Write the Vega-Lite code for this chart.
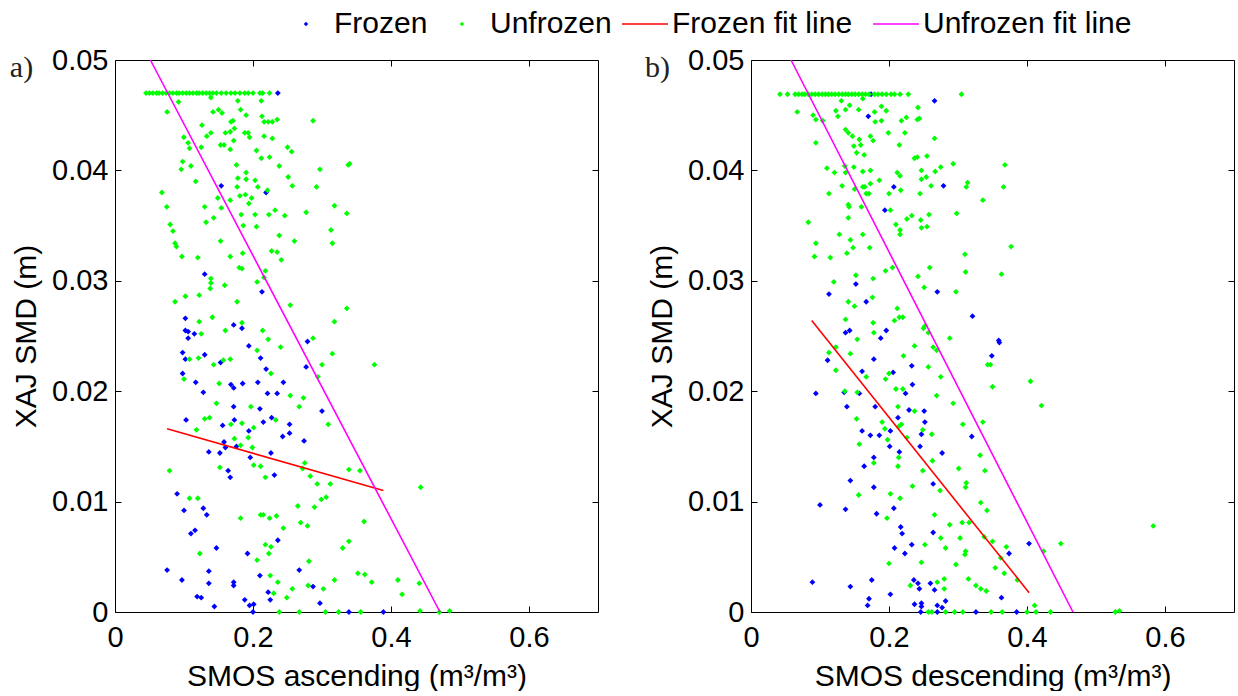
{
  "$schema": "https://vega.github.io/schema/vega-lite/v6.json",
  "background": "white",
  "padding": {"left": 9, "top": 0, "right": 0, "bottom": 0},
  "config": {
    "font": "Liberation Sans",
    "view": {"stroke": null},
    "axis": {
      "labelFont": "Liberation Sans", "labelFontSize": 29, "labelColor": "black",
      "titleFont": "Liberation Sans", "titleFontSize": 30, "titleFontWeight": "normal", "titleColor": "black",
      "domainColor": "black", "domainWidth": 1, "tickColor": "black", "tickSize": -6, "tickWidth": 1,
      "grid": false, "labelOverlap": false, "labelFlush": false
    },
    "legend": {
      "orient": "none", "direction": "horizontal", "title": null,
      "labelFont": "Liberation Sans", "labelFontSize": 30, "labelColor": "black", "labelLimit": 0, "padding": 0, "symbolOpacity": 1
    }
  },
  "datasets": {
    "ascPts": [
      {"group":"Frozen","x":0.236,"y":0.0470},{"group":"Frozen","x":0.154,"y":0.0386},{"group":"Frozen","x":0.219,"y":0.0380},{"group":"Frozen","x":0.130,"y":0.0306},{"group":"Frozen","x":0.213,"y":0.0290},{"group":"Frozen","x":0.102,"y":0.0266},{"group":"Frozen","x":0.102,"y":0.0255},{"group":"Frozen","x":0.106,"y":0.0254},{"group":"Frozen","x":0.115,"y":0.0252},{"group":"Frozen","x":0.106,"y":0.0248},{"group":"Frozen","x":0.172,"y":0.0260},{"group":"Frozen","x":0.184,"y":0.0257},
      {"group":"Frozen","x":0.098,"y":0.0235},{"group":"Frozen","x":0.102,"y":0.0229},{"group":"Frozen","x":0.130,"y":0.0233},{"group":"Frozen","x":0.153,"y":0.0226},{"group":"Frozen","x":0.194,"y":0.0241},{"group":"Frozen","x":0.211,"y":0.0230},{"group":"Frozen","x":0.219,"y":0.0220},{"group":"Frozen","x":0.279,"y":0.0245},{"group":"Frozen","x":0.277,"y":0.0222},{"group":"Frozen","x":0.098,"y":0.0216},{"group":"Frozen","x":0.117,"y":0.0208},{"group":"Frozen","x":0.128,"y":0.0199},{"group":"Frozen","x":0.168,"y":0.0206},{"group":"Frozen","x":0.172,"y":0.0203},{"group":"Frozen","x":0.185,"y":0.0207},{"group":"Frozen","x":0.207,"y":0.0208},{"group":"Frozen","x":0.221,"y":0.0198},{"group":"Frozen","x":0.235,"y":0.0198},{"group":"Frozen","x":0.244,"y":0.0208},{"group":"Frozen","x":0.300,"y":0.0182},{"group":"Frozen","x":0.103,"y":0.0174},{"group":"Frozen","x":0.156,"y":0.0169},{"group":"Frozen","x":0.172,"y":0.0186},{"group":"Frozen","x":0.173,"y":0.0174},{"group":"Frozen","x":0.210,"y":0.0184},{"group":"Frozen","x":0.215,"y":0.0172},{"group":"Frozen","x":0.227,"y":0.0176},{"group":"Frozen","x":0.253,"y":0.0170},{"group":"Frozen","x":0.253,"y":0.0162},{"group":"Frozen","x":0.243,"y":0.0159},{"group":"Frozen","x":0.274,"y":0.0155},{"group":"Frozen","x":0.194,"y":0.0164},{"group":"Frozen","x":0.158,"y":0.0154},{"group":"Frozen","x":0.160,"y":0.0149},{"group":"Frozen","x":0.176,"y":0.0150},{"group":"Frozen","x":0.136,"y":0.0145},{"group":"Frozen","x":0.152,"y":0.0144},{"group":"Frozen","x":0.196,"y":0.0140},{"group":"Frozen","x":0.226,"y":0.0144},{"group":"Frozen","x":0.164,"y":0.0128},{"group":"Frozen","x":0.167,"y":0.0122},{"group":"Frozen","x":0.231,"y":0.0124},{"group":"Frozen","x":0.090,"y":0.0107},{"group":"Frozen","x":0.100,"y":0.0092},{"group":"Frozen","x":0.128,"y":0.0094},{"group":"Frozen","x":0.133,"y":0.0088},{"group":"Frozen","x":0.110,"y":0.0071},{"group":"Frozen","x":0.116,"y":0.0074},{"group":"Frozen","x":0.147,"y":0.0058},{"group":"Frozen","x":0.192,"y":0.0053},{"group":"Frozen","x":0.236,"y":0.0065},{"group":"Frozen","x":0.0755,"y":0.0038},{"group":"Frozen","x":0.097,"y":0.0029},{"group":"Frozen","x":0.119,"y":0.0014},{"group":"Frozen","x":0.125,"y":0.0013},{"group":"Frozen","x":0.136,"y":0.0037},{"group":"Frozen","x":0.136,"y":0.0026},{"group":"Frozen","x":0.144,"y":0.0005},{"group":"Frozen","x":0.172,"y":0.0027},{"group":"Frozen","x":0.172,"y":0.0024},{"group":"Frozen","x":0.188,"y":0.0011},{"group":"Frozen","x":0.195,"y":0.0006},{"group":"Frozen","x":0.201,"y":0.0007},{"group":"Frozen","x":0.200,"y":0.0},{"group":"Frozen","x":0.210,"y":0.0033},{"group":"Frozen","x":0.222,"y":0.0018},{"group":"Frozen","x":0.225,"y":0.0011},{"group":"Frozen","x":0.267,"y":0.0038},{"group":"Frozen","x":0.287,"y":0.0023},{"group":"Frozen","x":0.297,"y":0.0008},{"group":"Frozen","x":0.339,"y":0.0},{"group":"Frozen","x":0.389,"y":0.0},
      {"group":"Unfrozen","x":0.045,"y":0.047},{"group":"Unfrozen","x":0.050,"y":0.047},{"group":"Unfrozen","x":0.055,"y":0.047},{"group":"Unfrozen","x":0.060,"y":0.047},{"group":"Unfrozen","x":0.064,"y":0.047},{"group":"Unfrozen","x":0.069,"y":0.047},{"group":"Unfrozen","x":0.074,"y":0.047},{"group":"Unfrozen","x":0.079,"y":0.047},{"group":"Unfrozen","x":0.084,"y":0.047},{"group":"Unfrozen","x":0.089,"y":0.047},{"group":"Unfrozen","x":0.093,"y":0.047},{"group":"Unfrozen","x":0.098,"y":0.047},{"group":"Unfrozen","x":0.103,"y":0.047},{"group":"Unfrozen","x":0.108,"y":0.047},{"group":"Unfrozen","x":0.113,"y":0.047},{"group":"Unfrozen","x":0.118,"y":0.047},{"group":"Unfrozen","x":0.122,"y":0.047},{"group":"Unfrozen","x":0.127,"y":0.047},{"group":"Unfrozen","x":0.132,"y":0.047},{"group":"Unfrozen","x":0.137,"y":0.047},{"group":"Unfrozen","x":0.142,"y":0.047},{"group":"Unfrozen","x":0.147,"y":0.047},{"group":"Unfrozen","x":0.154,"y":0.047},{"group":"Unfrozen","x":0.161,"y":0.047},{"group":"Unfrozen","x":0.168,"y":0.047},{"group":"Unfrozen","x":0.174,"y":0.047},{"group":"Unfrozen","x":0.181,"y":0.047},{"group":"Unfrozen","x":0.188,"y":0.047},{"group":"Unfrozen","x":0.193,"y":0.047},{"group":"Unfrozen","x":0.200,"y":0.047},{"group":"Unfrozen","x":0.210,"y":0.047},{"group":"Unfrozen","x":0.214,"y":0.047},{"group":"Unfrozen","x":0.224,"y":0.047},
      {"group":"Unfrozen","x":0.092,"y":0.0462},{"group":"Unfrozen","x":0.139,"y":0.0466},{"group":"Unfrozen","x":0.0755,"y":0.0453},{"group":"Unfrozen","x":0.142,"y":0.0453},{"group":"Unfrozen","x":0.150,"y":0.0455},{"group":"Unfrozen","x":0.155,"y":0.0452},{"group":"Unfrozen","x":0.182,"y":0.0455},{"group":"Unfrozen","x":0.190,"y":0.0450},{"group":"Unfrozen","x":0.178,"y":0.0463},{"group":"Unfrozen","x":0.212,"y":0.0463},{"group":"Unfrozen","x":0.213,"y":0.0449},{"group":"Unfrozen","x":0.216,"y":0.0444},{"group":"Unfrozen","x":0.222,"y":0.0444},{"group":"Unfrozen","x":0.228,"y":0.0444},{"group":"Unfrozen","x":0.235,"y":0.0446},{"group":"Unfrozen","x":0.287,"y":0.0445},{"group":"Unfrozen","x":0.168,"y":0.0444},{"group":"Unfrozen","x":0.171,"y":0.0445},{"group":"Unfrozen","x":0.126,"y":0.0441},{"group":"Unfrozen","x":0.0997,"y":0.0430},{"group":"Unfrozen","x":0.106,"y":0.0425},{"group":"Unfrozen","x":0.108,"y":0.0420},{"group":"Unfrozen","x":0.125,"y":0.0421},{"group":"Unfrozen","x":0.133,"y":0.0431},{"group":"Unfrozen","x":0.139,"y":0.0434},{"group":"Unfrozen","x":0.153,"y":0.0423},{"group":"Unfrozen","x":0.158,"y":0.0423},{"group":"Unfrozen","x":0.160,"y":0.0434},{"group":"Unfrozen","x":0.167,"y":0.0435},{"group":"Unfrozen","x":0.173,"y":0.0438},{"group":"Unfrozen","x":0.172,"y":0.0427},{"group":"Unfrozen","x":0.167,"y":0.0419},{"group":"Unfrozen","x":0.188,"y":0.0434},{"group":"Unfrozen","x":0.193,"y":0.0434},{"group":"Unfrozen","x":0.195,"y":0.0430},{"group":"Unfrozen","x":0.205,"y":0.0418},{"group":"Unfrozen","x":0.216,"y":0.0431},{"group":"Unfrozen","x":0.228,"y":0.0429},{"group":"Unfrozen","x":0.212,"y":0.0411},{"group":"Unfrozen","x":0.224,"y":0.0412},{"group":"Unfrozen","x":0.250,"y":0.0421},{"group":"Unfrozen","x":0.256,"y":0.0417},{"group":"Unfrozen","x":0.238,"y":0.0404},{"group":"Unfrozen","x":0.297,"y":0.0401},{"group":"Unfrozen","x":0.338,"y":0.0405},{"group":"Unfrozen","x":0.340,"y":0.0406},{"group":"Unfrozen","x":0.110,"y":0.0404},{"group":"Unfrozen","x":0.098,"y":0.0408},{"group":"Unfrozen","x":0.096,"y":0.0401},{"group":"Unfrozen","x":0.176,"y":0.0405},{"group":"Unfrozen","x":0.178,"y":0.0393},{"group":"Unfrozen","x":0.190,"y":0.0398},{"group":"Unfrozen","x":0.190,"y":0.0392},{"group":"Unfrozen","x":0.203,"y":0.0391},{"group":"Unfrozen","x":0.177,"y":0.0385},{"group":"Unfrozen","x":0.207,"y":0.0385},{"group":"Unfrozen","x":0.221,"y":0.0382},{"group":"Unfrozen","x":0.251,"y":0.0394},{"group":"Unfrozen","x":0.257,"y":0.0386},{"group":"Unfrozen","x":0.292,"y":0.0385},{"group":"Unfrozen","x":0.318,"y":0.0368},{"group":"Unfrozen","x":0.336,"y":0.0361},{"group":"Unfrozen","x":0.313,"y":0.0346},{"group":"Unfrozen","x":0.315,"y":0.0334},{"group":"Unfrozen","x":0.117,"y":0.0390},{"group":"Unfrozen","x":0.181,"y":0.0377},{"group":"Unfrozen","x":0.189,"y":0.0378},{"group":"Unfrozen","x":0.198,"y":0.0375},{"group":"Unfrozen","x":0.194,"y":0.0370},{"group":"Unfrozen","x":0.167,"y":0.0373},{"group":"Unfrozen","x":0.149,"y":0.0375},{"group":"Unfrozen","x":0.154,"y":0.0366},{"group":"Unfrozen","x":0.183,"y":0.0360},{"group":"Unfrozen","x":0.203,"y":0.0360},{"group":"Unfrozen","x":0.223,"y":0.0360},{"group":"Unfrozen","x":0.232,"y":0.0364},{"group":"Unfrozen","x":0.246,"y":0.0359},{"group":"Unfrozen","x":0.277,"y":0.0362},{"group":"Unfrozen","x":0.068,"y":0.0380},{"group":"Unfrozen","x":0.075,"y":0.0367},{"group":"Unfrozen","x":0.080,"y":0.0351},{"group":"Unfrozen","x":0.084,"y":0.0345},{"group":"Unfrozen","x":0.087,"y":0.0334},{"group":"Unfrozen","x":0.089,"y":0.0331},{"group":"Unfrozen","x":0.097,"y":0.0322},{"group":"Unfrozen","x":0.130,"y":0.0367},{"group":"Unfrozen","x":0.132,"y":0.0353},{"group":"Unfrozen","x":0.143,"y":0.0357},{"group":"Unfrozen","x":0.186,"y":0.0350},{"group":"Unfrozen","x":0.205,"y":0.0349},{"group":"Unfrozen","x":0.153,"y":0.0336},{"group":"Unfrozen","x":0.167,"y":0.0322},{"group":"Unfrozen","x":0.185,"y":0.0325},{"group":"Unfrozen","x":0.227,"y":0.0327},{"group":"Unfrozen","x":0.235,"y":0.0326},{"group":"Unfrozen","x":0.238,"y":0.0341},{"group":"Unfrozen","x":0.241,"y":0.0319},{"group":"Unfrozen","x":0.260,"y":0.0336},{"group":"Unfrozen","x":0.120,"y":0.0321},{"group":"Unfrozen","x":0.180,"y":0.0312},{"group":"Unfrozen","x":0.184,"y":0.0311},{"group":"Unfrozen","x":0.218,"y":0.0309},{"group":"Unfrozen","x":0.216,"y":0.0303},{"group":"Unfrozen","x":0.206,"y":0.0299},{"group":"Unfrozen","x":0.139,"y":0.0302},{"group":"Unfrozen","x":0.139,"y":0.0298},{"group":"Unfrozen","x":0.138,"y":0.0293},{"group":"Unfrozen","x":0.159,"y":0.0296},{"group":"Unfrozen","x":0.122,"y":0.0287},{"group":"Unfrozen","x":0.102,"y":0.0286},{"group":"Unfrozen","x":0.087,"y":0.0281},{"group":"Unfrozen","x":0.177,"y":0.0281},{"group":"Unfrozen","x":0.254,"y":0.0278},{"group":"Unfrozen","x":0.336,"y":0.0275},{"group":"Unfrozen","x":0.318,"y":0.0263},{"group":"Unfrozen","x":0.141,"y":0.0267},{"group":"Unfrozen","x":0.122,"y":0.0263},{"group":"Unfrozen","x":0.184,"y":0.0262},{"group":"Unfrozen","x":0.160,"y":0.0255},{"group":"Unfrozen","x":0.125,"y":0.0252},{"group":"Unfrozen","x":0.214,"y":0.0255},{"group":"Unfrozen","x":0.287,"y":0.0248},{"group":"Unfrozen","x":0.222,"y":0.0247},
      {"group":"Unfrozen","x":0.206,"y":0.0237},{"group":"Unfrozen","x":0.240,"y":0.0240},{"group":"Unfrozen","x":0.315,"y":0.0234},{"group":"Unfrozen","x":0.376,"y":0.0224},{"group":"Unfrozen","x":0.108,"y":0.0229},{"group":"Unfrozen","x":0.121,"y":0.0230},{"group":"Unfrozen","x":0.143,"y":0.0224},{"group":"Unfrozen","x":0.157,"y":0.0228},{"group":"Unfrozen","x":0.167,"y":0.0229},{"group":"Unfrozen","x":0.226,"y":0.0216},{"group":"Unfrozen","x":0.300,"y":0.0224},{"group":"Unfrozen","x":0.294,"y":0.0213},{"group":"Unfrozen","x":0.100,"y":0.0211},{"group":"Unfrozen","x":0.151,"y":0.0207},{"group":"Unfrozen","x":0.147,"y":0.0189},{"group":"Unfrozen","x":0.197,"y":0.0186},{"group":"Unfrozen","x":0.254,"y":0.0196},{"group":"Unfrozen","x":0.273,"y":0.0194},{"group":"Unfrozen","x":0.267,"y":0.0186},{"group":"Unfrozen","x":0.130,"y":0.0175},{"group":"Unfrozen","x":0.137,"y":0.0176},{"group":"Unfrozen","x":0.118,"y":0.0165},{"group":"Unfrozen","x":0.168,"y":0.0170},{"group":"Unfrozen","x":0.184,"y":0.0171},{"group":"Unfrozen","x":0.233,"y":0.0174},{"group":"Unfrozen","x":0.201,"y":0.0167},{"group":"Unfrozen","x":0.193,"y":0.0158},{"group":"Unfrozen","x":0.173,"y":0.0157},{"group":"Unfrozen","x":0.182,"y":0.0151},{"group":"Unfrozen","x":0.199,"y":0.0149},{"group":"Unfrozen","x":0.309,"y":0.0170},{"group":"Unfrozen","x":0.152,"y":0.0131},{"group":"Unfrozen","x":0.201,"y":0.0133},{"group":"Unfrozen","x":0.211,"y":0.0132},{"group":"Unfrozen","x":0.218,"y":0.0122},{"group":"Unfrozen","x":0.272,"y":0.0130},{"group":"Unfrozen","x":0.275,"y":0.0135},{"group":"Unfrozen","x":0.283,"y":0.0123},{"group":"Unfrozen","x":0.293,"y":0.0116},{"group":"Unfrozen","x":0.339,"y":0.0129},{"group":"Unfrozen","x":0.355,"y":0.0128},{"group":"Unfrozen","x":0.079,"y":0.0128},{"group":"Unfrozen","x":0.312,"y":0.0116},{"group":"Unfrozen","x":0.299,"y":0.0102},{"group":"Unfrozen","x":0.306,"y":0.0104},{"group":"Unfrozen","x":0.108,"y":0.0103},{"group":"Unfrozen","x":0.120,"y":0.0103},{"group":"Unfrozen","x":0.443,"y":0.0113},{"group":"Unfrozen","x":0.265,"y":0.0096},{"group":"Unfrozen","x":0.289,"y":0.0095},{"group":"Unfrozen","x":0.182,"y":0.0085},{"group":"Unfrozen","x":0.211,"y":0.0088},{"group":"Unfrozen","x":0.215,"y":0.0088},{"group":"Unfrozen","x":0.224,"y":0.0085},{"group":"Unfrozen","x":0.234,"y":0.0087},{"group":"Unfrozen","x":0.269,"y":0.0081},{"group":"Unfrozen","x":0.279,"y":0.0078},{"group":"Unfrozen","x":0.361,"y":0.0082},{"group":"Unfrozen","x":0.244,"y":0.0076},{"group":"Unfrozen","x":0.218,"y":0.0061},{"group":"Unfrozen","x":0.226,"y":0.0059},{"group":"Unfrozen","x":0.223,"y":0.0053},{"group":"Unfrozen","x":0.339,"y":0.0064},{"group":"Unfrozen","x":0.330,"y":0.0058},{"group":"Unfrozen","x":0.123,"y":0.0053},{"group":"Unfrozen","x":0.206,"y":0.0047},{"group":"Unfrozen","x":0.281,"y":0.0046},{"group":"Unfrozen","x":0.225,"y":0.0033},{"group":"Unfrozen","x":0.236,"y":0.0027},{"group":"Unfrozen","x":0.257,"y":0.0021},{"group":"Unfrozen","x":0.280,"y":0.0024},{"group":"Unfrozen","x":0.302,"y":0.0021},{"group":"Unfrozen","x":0.318,"y":0.0029},{"group":"Unfrozen","x":0.352,"y":0.0035},{"group":"Unfrozen","x":0.362,"y":0.0034},{"group":"Unfrozen","x":0.372,"y":0.0027},{"group":"Unfrozen","x":0.410,"y":0.0029},{"group":"Unfrozen","x":0.416,"y":0.0016},{"group":"Unfrozen","x":0.441,"y":0.0026},{"group":"Unfrozen","x":0.230,"y":0.0017},{"group":"Unfrozen","x":0.249,"y":0.0013},{"group":"Unfrozen","x":0.238,"y":0.0},{"group":"Unfrozen","x":0.267,"y":0.0},{"group":"Unfrozen","x":0.305,"y":0.0},{"group":"Unfrozen","x":0.324,"y":0.0},{"group":"Unfrozen","x":0.356,"y":0.0},{"group":"Unfrozen","x":0.442,"y":0.0001},{"group":"Unfrozen","x":0.470,"y":0.0},{"group":"Unfrozen","x":0.485,"y":0.0001}
    ],
    "ascFit": [
      {"group":"Frozen fit line","x":0.0755,"y":0.0166},{"group":"Frozen fit line","x":0.389,"y":0.0110},
      {"group":"Unfrozen fit line","x":0.0513,"y":0.05},{"group":"Unfrozen fit line","x":0.471,"y":0.0}
    ],
    "descPts": [
      {"group":"Frozen","x":0.174,"y":0.0469},{"group":"Frozen","x":0.266,"y":0.0463},{"group":"Frozen","x":0.170,"y":0.0449},{"group":"Frozen","x":0.279,"y":0.0386},{"group":"Frozen","x":0.207,"y":0.0385},{"group":"Frozen","x":0.194,"y":0.0364},{"group":"Frozen","x":0.113,"y":0.0288},{"group":"Frozen","x":0.152,"y":0.0297},{"group":"Frozen","x":0.167,"y":0.0281},{"group":"Frozen","x":0.270,"y":0.0290},{"group":"Frozen","x":0.321,"y":0.0268},{"group":"Frozen","x":0.137,"y":0.0253},{"group":"Frozen","x":0.143,"y":0.0255},{"group":"Frozen","x":0.188,"y":0.0248},{"group":"Frozen","x":0.196,"y":0.0255},{"group":"Frozen","x":0.359,"y":0.0246},
      {"group":"Frozen","x":0.360,"y":0.0244},{"group":"Frozen","x":0.349,"y":0.0232},{"group":"Frozen","x":0.233,"y":0.0223},{"group":"Frozen","x":0.206,"y":0.0217},{"group":"Frozen","x":0.234,"y":0.0206},{"group":"Frozen","x":0.224,"y":0.0198},{"group":"Frozen","x":0.178,"y":0.0229},{"group":"Frozen","x":0.111,"y":0.0228},{"group":"Frozen","x":0.161,"y":0.0218},{"group":"Frozen","x":0.094,"y":0.0198},{"group":"Frozen","x":0.135,"y":0.0199},{"group":"Frozen","x":0.139,"y":0.0186},{"group":"Frozen","x":0.157,"y":0.0198},{"group":"Frozen","x":0.180,"y":0.0186},{"group":"Frozen","x":0.213,"y":0.0176},{"group":"Frozen","x":0.229,"y":0.0183},{"group":"Frozen","x":0.251,"y":0.0182},{"group":"Frozen","x":0.252,"y":0.0172},{"group":"Frozen","x":0.202,"y":0.0164},{"group":"Frozen","x":0.161,"y":0.0164},{"group":"Frozen","x":0.173,"y":0.0160},{"group":"Frozen","x":0.186,"y":0.0160},{"group":"Frozen","x":0.247,"y":0.0161},{"group":"Frozen","x":0.320,"y":0.0159},{"group":"Frozen","x":0.201,"y":0.0150},{"group":"Frozen","x":0.215,"y":0.0145},{"group":"Frozen","x":0.245,"y":0.0150},{"group":"Frozen","x":0.277,"y":0.0144},{"group":"Frozen","x":0.178,"y":0.0140},{"group":"Frozen","x":0.164,"y":0.0132},{"group":"Frozen","x":0.144,"y":0.0119},{"group":"Frozen","x":0.264,"y":0.0116},{"group":"Frozen","x":0.178,"y":0.0113},{"group":"Frozen","x":0.100,"y":0.0097},{"group":"Frozen","x":0.137,"y":0.0093},{"group":"Frozen","x":0.182,"y":0.0089},{"group":"Frozen","x":0.207,"y":0.0094},{"group":"Frozen","x":0.217,"y":0.0077},{"group":"Frozen","x":0.219,"y":0.0071},{"group":"Frozen","x":0.264,"y":0.0072},{"group":"Frozen","x":0.233,"y":0.0061},{"group":"Frozen","x":0.208,"y":0.0058},{"group":"Frozen","x":0.223,"y":0.0053},{"group":"Frozen","x":0.403,"y":0.0062},{"group":"Frozen","x":0.374,"y":0.0053},{"group":"Frozen","x":0.089,"y":0.0027},{"group":"Frozen","x":0.144,"y":0.0023},{"group":"Frozen","x":0.175,"y":0.0029},{"group":"Frozen","x":0.171,"y":0.0012},{"group":"Frozen","x":0.169,"y":0.0006},{"group":"Frozen","x":0.202,"y":0.0016},{"group":"Frozen","x":0.236,"y":0.0029},{"group":"Frozen","x":0.242,"y":0.0026},{"group":"Frozen","x":0.244,"y":0.0021},{"group":"Frozen","x":0.260,"y":0.0026},{"group":"Frozen","x":0.266,"y":0.0020},{"group":"Frozen","x":0.237,"y":0.0007},{"group":"Frozen","x":0.247,"y":0.0008},{"group":"Frozen","x":0.247,"y":0.0005},{"group":"Frozen","x":0.246,"y":0.0},{"group":"Frozen","x":0.270,"y":0.0006},{"group":"Frozen","x":0.277,"y":0.0004},{"group":"Frozen","x":0.282,"y":0.0010},{"group":"Frozen","x":0.270,"y":0.0},{"group":"Frozen","x":0.326,"y":0.0},{"group":"Frozen","x":0.363,"y":0.0013},{"group":"Frozen","x":0.385,"y":0.0},
      {"group":"Unfrozen","x":0.042,"y":0.0469},{"group":"Unfrozen","x":0.053,"y":0.0469},{"group":"Unfrozen","x":0.064,"y":0.0469},{"group":"Unfrozen","x":0.069,"y":0.0469},{"group":"Unfrozen","x":0.074,"y":0.0469},{"group":"Unfrozen","x":0.078,"y":0.0469},{"group":"Unfrozen","x":0.083,"y":0.0469},{"group":"Unfrozen","x":0.088,"y":0.0469},{"group":"Unfrozen","x":0.093,"y":0.0469},{"group":"Unfrozen","x":0.098,"y":0.0469},{"group":"Unfrozen","x":0.103,"y":0.0469},{"group":"Unfrozen","x":0.108,"y":0.0469},{"group":"Unfrozen","x":0.112,"y":0.0469},{"group":"Unfrozen","x":0.117,"y":0.0469},{"group":"Unfrozen","x":0.122,"y":0.0469},{"group":"Unfrozen","x":0.127,"y":0.0469},{"group":"Unfrozen","x":0.132,"y":0.0469},{"group":"Unfrozen","x":0.137,"y":0.0469},{"group":"Unfrozen","x":0.141,"y":0.0469},{"group":"Unfrozen","x":0.146,"y":0.0469},{"group":"Unfrozen","x":0.151,"y":0.0469},{"group":"Unfrozen","x":0.156,"y":0.0469},{"group":"Unfrozen","x":0.161,"y":0.0469},{"group":"Unfrozen","x":0.166,"y":0.0469},{"group":"Unfrozen","x":0.171,"y":0.0469},{"group":"Unfrozen","x":0.179,"y":0.0469},{"group":"Unfrozen","x":0.184,"y":0.0469},{"group":"Unfrozen","x":0.190,"y":0.0469},{"group":"Unfrozen","x":0.196,"y":0.0469},{"group":"Unfrozen","x":0.203,"y":0.0469},{"group":"Unfrozen","x":0.208,"y":0.0469},{"group":"Unfrozen","x":0.216,"y":0.0469},{"group":"Unfrozen","x":0.228,"y":0.0469},{"group":"Unfrozen","x":0.305,"y":0.0469},
      {"group":"Unfrozen","x":0.162,"y":0.0465},{"group":"Unfrozen","x":0.131,"y":0.0463},{"group":"Unfrozen","x":0.143,"y":0.0459},{"group":"Unfrozen","x":0.067,"y":0.0453},{"group":"Unfrozen","x":0.123,"y":0.0454},{"group":"Unfrozen","x":0.137,"y":0.0455},{"group":"Unfrozen","x":0.156,"y":0.0455},{"group":"Unfrozen","x":0.179,"y":0.0453},{"group":"Unfrozen","x":0.189,"y":0.0458},{"group":"Unfrozen","x":0.196,"y":0.0454},{"group":"Unfrozen","x":0.126,"y":0.0449},{"group":"Unfrozen","x":0.090,"y":0.0450},{"group":"Unfrozen","x":0.094,"y":0.0446},{"group":"Unfrozen","x":0.104,"y":0.0445},{"group":"Unfrozen","x":0.180,"y":0.0444},{"group":"Unfrozen","x":0.189,"y":0.0445},{"group":"Unfrozen","x":0.218,"y":0.0445},{"group":"Unfrozen","x":0.225,"y":0.0448},{"group":"Unfrozen","x":0.242,"y":0.0457},{"group":"Unfrozen","x":0.241,"y":0.0446},{"group":"Unfrozen","x":0.244,"y":0.0447},{"group":"Unfrozen","x":0.223,"y":0.0434},{"group":"Unfrozen","x":0.199,"y":0.0434},{"group":"Unfrozen","x":0.215,"y":0.0423},{"group":"Unfrozen","x":0.137,"y":0.0437},{"group":"Unfrozen","x":0.141,"y":0.0434},{"group":"Unfrozen","x":0.147,"y":0.0431},{"group":"Unfrozen","x":0.157,"y":0.0428},{"group":"Unfrozen","x":0.173,"y":0.0431},{"group":"Unfrozen","x":0.177,"y":0.0427},{"group":"Unfrozen","x":0.149,"y":0.0422},{"group":"Unfrozen","x":0.159,"y":0.0423},{"group":"Unfrozen","x":0.153,"y":0.0416},{"group":"Unfrozen","x":0.164,"y":0.0414},{"group":"Unfrozen","x":0.094,"y":0.0425},{"group":"Unfrozen","x":0.266,"y":0.0429},{"group":"Unfrozen","x":0.237,"y":0.0411},{"group":"Unfrozen","x":0.241,"y":0.0412},{"group":"Unfrozen","x":0.255,"y":0.0413},{"group":"Unfrozen","x":0.293,"y":0.0406},{"group":"Unfrozen","x":0.368,"y":0.0405},{"group":"Unfrozen","x":0.247,"y":0.0400},{"group":"Unfrozen","x":0.247,"y":0.0392},{"group":"Unfrozen","x":0.254,"y":0.0394},{"group":"Unfrozen","x":0.267,"y":0.0399},{"group":"Unfrozen","x":0.275,"y":0.0403},{"group":"Unfrozen","x":0.261,"y":0.0386},{"group":"Unfrozen","x":0.110,"y":0.0402},{"group":"Unfrozen","x":0.121,"y":0.0398},{"group":"Unfrozen","x":0.136,"y":0.0404},{"group":"Unfrozen","x":0.137,"y":0.0398},{"group":"Unfrozen","x":0.149,"y":0.0403},{"group":"Unfrozen","x":0.162,"y":0.0399},{"group":"Unfrozen","x":0.173,"y":0.0400},{"group":"Unfrozen","x":0.186,"y":0.0391},{"group":"Unfrozen","x":0.212,"y":0.0398},{"group":"Unfrozen","x":0.216,"y":0.0395},{"group":"Unfrozen","x":0.217,"y":0.0382},{"group":"Unfrozen","x":0.245,"y":0.0379},{"group":"Unfrozen","x":0.132,"y":0.0386},{"group":"Unfrozen","x":0.162,"y":0.0385},{"group":"Unfrozen","x":0.165,"y":0.0385},{"group":"Unfrozen","x":0.173,"y":0.0388},{"group":"Unfrozen","x":0.150,"y":0.0383},{"group":"Unfrozen","x":0.167,"y":0.0379},{"group":"Unfrozen","x":0.171,"y":0.0379},{"group":"Unfrozen","x":0.113,"y":0.0379},{"group":"Unfrozen","x":0.200,"y":0.0379},{"group":"Unfrozen","x":0.314,"y":0.0389},{"group":"Unfrozen","x":0.312,"y":0.0385},{"group":"Unfrozen","x":0.366,"y":0.0385},{"group":"Unfrozen","x":0.336,"y":0.0373},{"group":"Unfrozen","x":0.141,"y":0.0369},{"group":"Unfrozen","x":0.142,"y":0.0367},{"group":"Unfrozen","x":0.160,"y":0.0367},{"group":"Unfrozen","x":0.141,"y":0.0357},{"group":"Unfrozen","x":0.202,"y":0.0364},{"group":"Unfrozen","x":0.226,"y":0.0356},{"group":"Unfrozen","x":0.233,"y":0.0359},{"group":"Unfrozen","x":0.258,"y":0.0360},{"group":"Unfrozen","x":0.298,"y":0.0361},{"group":"Unfrozen","x":0.246,"y":0.0355},{"group":"Unfrozen","x":0.247,"y":0.0348},{"group":"Unfrozen","x":0.255,"y":0.0349},{"group":"Unfrozen","x":0.210,"y":0.0351},{"group":"Unfrozen","x":0.216,"y":0.0346},{"group":"Unfrozen","x":0.216,"y":0.0342},{"group":"Unfrozen","x":0.083,"y":0.0353},{"group":"Unfrozen","x":0.094,"y":0.0334},{"group":"Unfrozen","x":0.092,"y":0.0322},{"group":"Unfrozen","x":0.115,"y":0.0321},{"group":"Unfrozen","x":0.128,"y":0.0342},{"group":"Unfrozen","x":0.144,"y":0.0337},{"group":"Unfrozen","x":0.148,"y":0.0330},{"group":"Unfrozen","x":0.139,"y":0.0325},{"group":"Unfrozen","x":0.162,"y":0.0342},{"group":"Unfrozen","x":0.172,"y":0.0330},{"group":"Unfrozen","x":0.310,"y":0.0324},{"group":"Unfrozen","x":0.377,"y":0.0331},{"group":"Unfrozen","x":0.195,"y":0.0309},{"group":"Unfrozen","x":0.205,"y":0.0312},{"group":"Unfrozen","x":0.259,"y":0.0312},{"group":"Unfrozen","x":0.311,"y":0.0308},{"group":"Unfrozen","x":0.363,"y":0.0306},{"group":"Unfrozen","x":0.242,"y":0.0304},{"group":"Unfrozen","x":0.251,"y":0.0294},{"group":"Unfrozen","x":0.297,"y":0.0290},{"group":"Unfrozen","x":0.120,"y":0.0299},{"group":"Unfrozen","x":0.152,"y":0.0305},{"group":"Unfrozen","x":0.177,"y":0.0302},{"group":"Unfrozen","x":0.176,"y":0.0285},{"group":"Unfrozen","x":0.141,"y":0.0281},{"group":"Unfrozen","x":0.150,"y":0.0277},{"group":"Unfrozen","x":0.212,"y":0.0275},{"group":"Unfrozen","x":0.137,"y":0.0265},{"group":"Unfrozen","x":0.177,"y":0.0262},{"group":"Unfrozen","x":0.208,"y":0.0264},{"group":"Unfrozen","x":0.215,"y":0.0267},{"group":"Unfrozen","x":0.220,"y":0.0267},{"group":"Unfrozen","x":0.250,"y":0.0257},{"group":"Unfrozen","x":0.252,"y":0.0259},{"group":"Unfrozen","x":0.257,"y":0.0253},{"group":"Unfrozen","x":0.178,"y":0.0253},{"group":"Unfrozen","x":0.154,"y":0.0247},{"group":"Unfrozen","x":0.288,"y":0.0248},
      {"group":"Unfrozen","x":0.237,"y":0.0241},{"group":"Unfrozen","x":0.264,"y":0.0240},{"group":"Unfrozen","x":0.269,"y":0.0237},{"group":"Unfrozen","x":0.123,"y":0.0240},{"group":"Unfrozen","x":0.144,"y":0.0234},{"group":"Unfrozen","x":0.113,"y":0.0235},{"group":"Unfrozen","x":0.221,"y":0.0232},{"group":"Unfrozen","x":0.343,"y":0.0224},{"group":"Unfrozen","x":0.347,"y":0.0224},{"group":"Unfrozen","x":0.257,"y":0.0222},{"group":"Unfrozen","x":0.123,"y":0.0219},{"group":"Unfrozen","x":0.167,"y":0.0213},{"group":"Unfrozen","x":0.195,"y":0.0211},{"group":"Unfrozen","x":0.200,"y":0.0216},{"group":"Unfrozen","x":0.275,"y":0.0213},{"group":"Unfrozen","x":0.405,"y":0.0209},{"group":"Unfrozen","x":0.350,"y":0.0204},{"group":"Unfrozen","x":0.136,"y":0.0200},{"group":"Unfrozen","x":0.154,"y":0.0199},{"group":"Unfrozen","x":0.210,"y":0.0202},{"group":"Unfrozen","x":0.220,"y":0.0202},{"group":"Unfrozen","x":0.269,"y":0.0196},{"group":"Unfrozen","x":0.293,"y":0.0189},{"group":"Unfrozen","x":0.421,"y":0.0187},{"group":"Unfrozen","x":0.213,"y":0.0186},{"group":"Unfrozen","x":0.237,"y":0.0182},{"group":"Unfrozen","x":0.153,"y":0.0175},{"group":"Unfrozen","x":0.190,"y":0.0172},{"group":"Unfrozen","x":0.214,"y":0.0168},{"group":"Unfrozen","x":0.218,"y":0.0170},{"group":"Unfrozen","x":0.249,"y":0.0165},{"group":"Unfrozen","x":0.307,"y":0.0170},{"group":"Unfrozen","x":0.336,"y":0.0172},{"group":"Unfrozen","x":0.194,"y":0.0166},{"group":"Unfrozen","x":0.262,"y":0.0161},{"group":"Unfrozen","x":0.157,"y":0.0152},{"group":"Unfrozen","x":0.198,"y":0.0156},{"group":"Unfrozen","x":0.226,"y":0.0158},{"group":"Unfrozen","x":0.178,"y":0.0135},{"group":"Unfrozen","x":0.214,"y":0.0140},{"group":"Unfrozen","x":0.213,"y":0.0132},{"group":"Unfrozen","x":0.263,"y":0.0137},{"group":"Unfrozen","x":0.332,"y":0.0142},{"group":"Unfrozen","x":0.301,"y":0.0130},{"group":"Unfrozen","x":0.249,"y":0.0128},{"group":"Unfrozen","x":0.339,"y":0.0128},{"group":"Unfrozen","x":0.312,"y":0.0117},{"group":"Unfrozen","x":0.311,"y":0.0113},{"group":"Unfrozen","x":0.234,"y":0.0114},{"group":"Unfrozen","x":0.274,"y":0.0110},{"group":"Unfrozen","x":0.156,"y":0.0106},{"group":"Unfrozen","x":0.202,"y":0.0107},{"group":"Unfrozen","x":0.216,"y":0.0103},{"group":"Unfrozen","x":0.333,"y":0.0099},{"group":"Unfrozen","x":0.342,"y":0.0092},{"group":"Unfrozen","x":0.266,"y":0.0088},{"group":"Unfrozen","x":0.197,"y":0.0085},{"group":"Unfrozen","x":0.288,"y":0.0079},{"group":"Unfrozen","x":0.306,"y":0.0081},{"group":"Unfrozen","x":0.316,"y":0.0081},{"group":"Unfrozen","x":0.275,"y":0.0067},{"group":"Unfrozen","x":0.303,"y":0.0067},{"group":"Unfrozen","x":0.252,"y":0.0061},{"group":"Unfrozen","x":0.282,"y":0.0058},{"group":"Unfrozen","x":0.338,"y":0.0068},{"group":"Unfrozen","x":0.350,"y":0.0064},{"group":"Unfrozen","x":0.370,"y":0.0059},{"group":"Unfrozen","x":0.311,"y":0.0055},{"group":"Unfrozen","x":0.310,"y":0.0052},{"group":"Unfrozen","x":0.424,"y":0.0055},{"group":"Unfrozen","x":0.449,"y":0.0062},{"group":"Unfrozen","x":0.583,"y":0.0078},{"group":"Unfrozen","x":0.200,"y":0.0044},{"group":"Unfrozen","x":0.247,"y":0.0045},{"group":"Unfrozen","x":0.297,"y":0.0043},{"group":"Unfrozen","x":0.362,"y":0.0049},{"group":"Unfrozen","x":0.354,"y":0.0040},{"group":"Unfrozen","x":0.367,"y":0.0035},{"group":"Unfrozen","x":0.315,"y":0.0030},{"group":"Unfrozen","x":0.280,"y":0.0030},{"group":"Unfrozen","x":0.270,"y":0.0027},{"group":"Unfrozen","x":0.231,"y":0.0024},{"group":"Unfrozen","x":0.326,"y":0.0024},{"group":"Unfrozen","x":0.333,"y":0.0021},{"group":"Unfrozen","x":0.341,"y":0.0019},{"group":"Unfrozen","x":0.280,"y":0.0021},{"group":"Unfrozen","x":0.386,"y":0.0029},{"group":"Unfrozen","x":0.411,"y":0.0006},{"group":"Unfrozen","x":0.257,"y":0.0},{"group":"Unfrozen","x":0.262,"y":0.0},{"group":"Unfrozen","x":0.282,"y":0.0},{"group":"Unfrozen","x":0.295,"y":0.0},{"group":"Unfrozen","x":0.307,"y":0.0},{"group":"Unfrozen","x":0.348,"y":0.0},{"group":"Unfrozen","x":0.364,"y":0.0},{"group":"Unfrozen","x":0.400,"y":0.0},{"group":"Unfrozen","x":0.413,"y":0.0},{"group":"Unfrozen","x":0.434,"y":0.0},{"group":"Unfrozen","x":0.528,"y":0.0},{"group":"Unfrozen","x":0.534,"y":0.0001}
    ],
    "descFit": [
      {"group":"Frozen fit line","x":0.088,"y":0.0264},{"group":"Frozen fit line","x":0.403,"y":0.00175},
      {"group":"Unfrozen fit line","x":0.058,"y":0.05},{"group":"Unfrozen fit line","x":0.4666,"y":0.0}
    ]
  },
  "spacing": 45,
  "resolve": {"scale": {"fill": "shared", "stroke": "shared"}, "legend": {"fill": "shared", "stroke": "shared"}},
  "hconcat": [
    {
      "width": 483, "height": 552,
      "resolve": {"axis": {"x": "independent", "y": "independent"}},
      "layer": [
        {
          "data": {"name": "ascPts"},
          "mark": {"type": "point", "filled": true, "shape": "diamond", "size": 34, "opacity": 1},
          "encoding": {
            "x": {"field": "x", "type": "quantitative", "scale": {"domain": [0, 0.7], "nice": false, "zero": false},
                  "axis": {"orient": "bottom", "values": [0, 0.2, 0.4, 0.6], "format": "~g", "labelPadding": 17, "titlePadding": 9, "title": "SMOS ascending (m³/m³)"}},
            "y": {"field": "y", "type": "quantitative", "scale": {"domain": [0, 0.05], "nice": false, "zero": false},
                  "axis": {"orient": "left", "values": [0, 0.01, 0.02, 0.03, 0.04, 0.05], "format": "~g", "labelPadding": 13, "titlePadding": 10, "title": "XAJ SMD (m)"}},
            "fill": {"field": "group", "type": "nominal",
                     "scale": {"domain": ["Frozen", "Unfrozen"], "range": ["#0000ff", "#00ff00"]},
                     "legend": {"legendX": 176, "legendY": -51, "symbolType": "diamond", "symbolSize": 20, "symbolStrokeWidth": 0, "labelOffset": 13, "columnPadding": 19}}
          }
        },
        {
          "data": {"name": "ascFit"},
          "mark": {"type": "line", "strokeWidth": 1.6},
          "encoding": {
            "x": {"field": "x", "type": "quantitative",
                  "axis": {"orient": "top", "values": [0.2, 0.4, 0.6], "labels": false, "title": "a)", "titleFont": "Liberation Serif", "titleFontSize": 30, "titleColor": "#222222", "titleAngle": 0, "titleAlign": "center", "titleBaseline": "middle", "titleX": -94, "titleY": 7}},
            "y": {"field": "y", "type": "quantitative",
                  "axis": {"orient": "right", "values": [0.01, 0.02, 0.03, 0.04], "labels": false, "title": null}},
            "stroke": {"field": "group", "type": "nominal",
                       "scale": {"domain": ["Frozen fit line", "Unfrozen fit line"], "range": ["#ff0000", "#ff00ff"]},
                       "legend": {"legendX": 506, "legendY": -60, "symbolType": "stroke", "symbolSize": 2116, "symbolStrokeWidth": 1.5, "labelOffset": 3, "columnPadding": 17}}
          }
        }
      ]
    },
    {
      "width": 483, "height": 552,
      "resolve": {"axis": {"x": "independent", "y": "independent"}},
      "layer": [
        {
          "data": {"name": "descPts"},
          "mark": {"type": "point", "filled": true, "shape": "diamond", "size": 34, "opacity": 1},
          "encoding": {
            "x": {"field": "x", "type": "quantitative", "scale": {"domain": [0, 0.7], "nice": false, "zero": false},
                  "axis": {"orient": "bottom", "values": [0, 0.2, 0.4, 0.6], "format": "~g", "labelPadding": 17, "titlePadding": 9, "title": "SMOS descending (m³/m³)"}},
            "y": {"field": "y", "type": "quantitative", "scale": {"domain": [0, 0.05], "nice": false, "zero": false},
                  "axis": {"orient": "left", "values": [0, 0.01, 0.02, 0.03, 0.04, 0.05], "format": "~g", "labelPadding": 13, "titlePadding": 10, "title": "XAJ SMD (m)"}},
            "fill": {"field": "group", "type": "nominal",
                     "scale": {"domain": ["Frozen", "Unfrozen"], "range": ["#0000ff", "#00ff00"]},
                     "legend": {"legendX": 176, "legendY": -51, "symbolType": "diamond", "symbolSize": 20, "symbolStrokeWidth": 0, "labelOffset": 13, "columnPadding": 19}}
          }
        },
        {
          "data": {"name": "descFit"},
          "mark": {"type": "line", "strokeWidth": 1.6},
          "encoding": {
            "x": {"field": "x", "type": "quantitative",
                  "axis": {"orient": "top", "values": [0.2, 0.4, 0.6], "labels": false, "title": "b)", "titleFont": "Liberation Serif", "titleFontSize": 30, "titleColor": "#222222", "titleAngle": 0, "titleAlign": "center", "titleBaseline": "middle", "titleX": -94, "titleY": 7}},
            "y": {"field": "y", "type": "quantitative",
                  "axis": {"orient": "right", "values": [0.01, 0.02, 0.03, 0.04], "labels": false, "title": null}},
            "stroke": {"field": "group", "type": "nominal",
                       "scale": {"domain": ["Frozen fit line", "Unfrozen fit line"], "range": ["#ff0000", "#ff00ff"]},
                       "legend": {"legendX": 506, "legendY": -60, "symbolType": "stroke", "symbolSize": 2116, "symbolStrokeWidth": 1.5, "labelOffset": 3, "columnPadding": 17}}
          }
        }
      ]
    }
  ]
}
